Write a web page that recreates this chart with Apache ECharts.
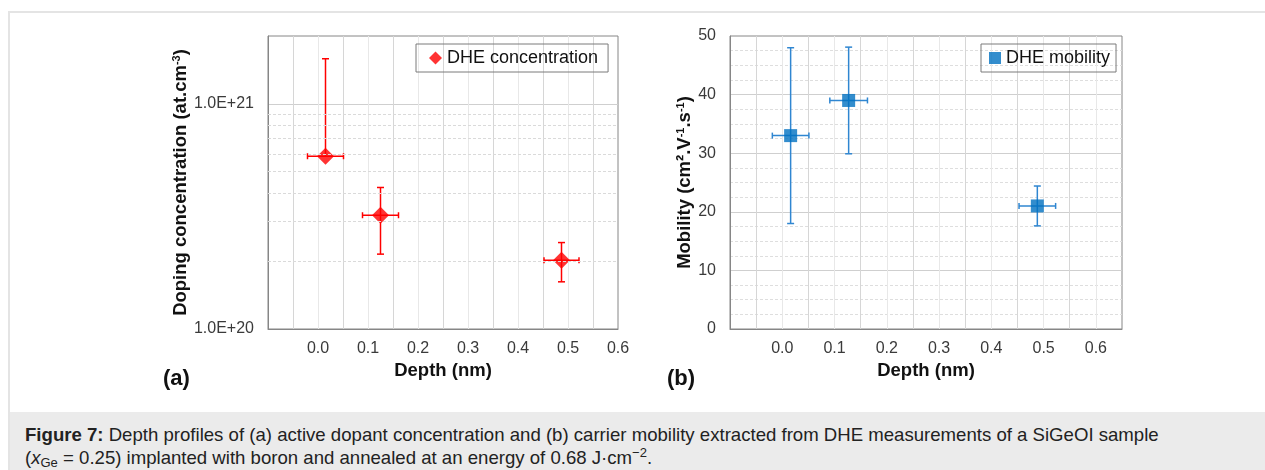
<!DOCTYPE html>
<html>
<head>
<meta charset="utf-8">
<script src="https://cdn.jsdelivr.net/npm/echarts@6/dist/echarts.min.js"></script>
<style>
  html, body { margin: 0; padding: 0; background: #fff; width: 1265px; height: 470px; overflow: hidden; }
  #frame { position: absolute; left: 8px; top: 11px; width: 1257px; height: 459px; border-top: 2px solid #e4e4e4; border-left: 2px solid #e4e4e4; box-sizing: border-box; }
  #chart { position: absolute; left: 0; top: 0; width: 1265px; height: 412px; }
  #cap { position: absolute; left: 10px; top: 412px; width: 1255px; height: 58px; background: #ebebeb;
         font-family: 'Liberation Sans', Arial, sans-serif; font-size: 18.6px; line-height: 23px; color: #222;
         padding: 11px 0 0 15px; box-sizing: border-box; white-space: nowrap; }
  #cap sub { font-size: 13px; vertical-align: -3px; line-height: 0; }
  #cap sup { font-size: 13px; vertical-align: 7px; line-height: 0; }
</style>
</head>
<body>
<div id="frame"></div>
<div id="chart"></div>
<div id="cap"><b>Figure 7:</b> Depth profiles of (a) active dopant concentration and (b) carrier mobility extracted from DHE measurements of a SiGeOI sample<br>(<i>x</i><sub>Ge</sub> = 0.25) implanted with boron and annealed at an energy of 0.68 J·cm<sup>−2</sup>.</div>
<script>
// ---- data ----
const concDepth    = [0.015, 0.125, 0.487];
const concDepthErr = [0.036, 0.036, 0.035];
const concValues   = [5.85e20, 3.2e20, 2.02e20];
const concErr      = [1.0e21, 1.05e20, 0.40e20];

const mobDepth    = [0.016, 0.127, 0.488];
const mobDepthErr = [0.035, 0.036, 0.035];
const mobValues   = [33, 39, 21];
const mobErr      = [15, 9.1, 3.4];

const concMinorLines = [2e20, 3e20, 4e20, 5e20, 6e20, 7e20, 8e20, 9e20];
const concSeriesName = 'DHE concentration';
const mobSeriesName  = 'DHE mobility';
const xAxisTitle = 'Depth (nm)';

// ---- build ----
const FONT = "'Liberation Sans', Arial, sans-serif";
const rows = (xs, ys, xe, ye) => xs.map((x, i) => [x, ys[i], xe[i], ye[i]]);

function errorBarRender(color, logY) {
  return function (params, api) {
    const x = api.value(0), y = api.value(1), xe = api.value(2), ye = api.value(3);
    const c = api.coord([x, y]);
    const hi = api.coord([x, y + ye]);
    const lo = (logY && y - ye <= 0) ? null : api.coord([x, y - ye]);
    const l = api.coord([x - xe, y]);
    const r = api.coord([x + xe, y]);
    const style = { stroke: color, lineWidth: 1.5, fill: null };
    const capV = 3.5, capH = 3;
    const ch = [];
    const line = (x1, y1, x2, y2) => ch.push({ type: 'line', shape: { x1, y1, x2, y2 }, style });
    line(c[0], hi[1], c[0], c[1]);
    line(c[0] - capV, hi[1], c[0] + capV, hi[1]);
    if (lo) {
      line(c[0], c[1], c[0], lo[1]);
      line(c[0] - capV, lo[1], c[0] + capV, lo[1]);
    }
    line(l[0], c[1], r[0], c[1]);
    line(l[0], c[1] - capH, l[0], c[1] + capH);
    line(r[0], c[1] - capH, r[0], c[1] + capH);
    return { type: 'group', children: ch };
  };
}

function xAxisDef(gridIndex, max) {
  return {
    type: 'value', gridIndex, min: -0.1, max, interval: 0.05,
    name: xAxisTitle, nameLocation: 'middle', nameGap: 29,
    nameTextStyle: { fontFamily: FONT, fontSize: 18.5, fontWeight: 'bold', color: '#111' },
    axisLine: { show: true, onZero: false, lineStyle: { color: '#868686', width: 1 } },
    axisTick: { show: false },
    axisLabel: {
      fontFamily: FONT, fontSize: 16, color: '#3a3a3a', margin: 12,
      formatter: v => {
        const k = Math.round(v * 100);
        if (k < 0 || k % 10 !== 0 || v > 0.6 + 1e-9) return '';
        return v.toFixed(1);
      }
    },
    splitLine: { show: true, showMinLine: false, showMaxLine: false,
      lineStyle: { color: ['#d6d6d6', '#e8e8e8'], width: 1 } }
  };
}

const option = {
  animation: false,
  textStyle: { fontFamily: FONT },
  grid: [
    { left: 268, top: 36, width: 350, height: 293, show: true, borderColor: '#868686', borderWidth: 1, backgroundColor: 'transparent' },
    { left: 730, top: 36, width: 392, height: 293, show: true, borderColor: '#868686', borderWidth: 1, backgroundColor: 'transparent' }
  ],
  legend: [
    { data: [concSeriesName], left: 416, top: 44, orient: 'horizontal',
      borderColor: '#7a7a7a', borderWidth: 1, padding: [5, 10, 5, 13],
      itemWidth: 13, itemHeight: 13, textStyle: { fontFamily: FONT, fontSize: 18, color: '#111' } },
    { data: [mobSeriesName], left: 981, top: 44, orient: 'horizontal',
      borderColor: '#7a7a7a', borderWidth: 1, padding: [5, 6, 5, 8],
      itemWidth: 12, itemHeight: 12, textStyle: { fontFamily: FONT, fontSize: 18, color: '#111' } }
  ],
  xAxis: [ xAxisDef(0, 0.6), xAxisDef(1, 0.65) ],
  yAxis: [
    {
      type: 'log', gridIndex: 0, logBase: 10, min: 1e20, max: 2e21,
      name: '{t|Doping concentration (at.cm}{s|-3}{t|)}', nameLocation: 'middle', nameGap: 77, nameRotate: 90,
      nameTextStyle: { rich: {
        t: { fontFamily: FONT, fontSize: 18.5, fontWeight: 'bold', color: '#111' },
        s: { fontFamily: FONT, fontSize: 11, fontWeight: 'bold', color: '#111', verticalAlign: 'top' } } },
      axisLine: { show: true, onZero: false, lineStyle: { color: '#868686' } },
      axisTick: { show: false },
      axisLabel: { fontFamily: FONT, fontSize: 16, color: '#3a3a3a', margin: 14,
        formatter: v => {
          const e = Math.log10(v);
          if (Math.abs(e - Math.round(e)) > 1e-6) return '';
          return '1.0E+' + Math.round(e);
        } },
      splitLine: { show: true, showMinLine: false, showMaxLine: false, lineStyle: { color: '#cfcfcf', width: 1 } }
    },
    {
      type: 'value', gridIndex: 1, min: 0, max: 50, interval: 10,
      name: '{t|Mobility (cm².V}{s|-1}{t|.s}{s|-1}{t|)}', nameLocation: 'middle', nameGap: 36, nameRotate: 90,
      nameTextStyle: { rich: {
        t: { fontFamily: FONT, fontSize: 18.5, fontWeight: 'bold', color: '#111' },
        s: { fontFamily: FONT, fontSize: 11, fontWeight: 'bold', color: '#111', verticalAlign: 'top' } } },
      axisLine: { show: true, onZero: false, lineStyle: { color: '#868686' } },
      axisTick: { show: false },
      axisLabel: { fontFamily: FONT, fontSize: 16, color: '#3a3a3a', margin: 14 },
      splitLine: { show: true, showMinLine: false, showMaxLine: false, lineStyle: { color: '#cfcfcf', width: 1 } },
      minorTick: { show: false, splitNumber: 4 },
      minorSplitLine: { show: true, lineStyle: { color: '#dedede', type: [3, 2], width: 1 } }
    }
  ],
  graphic: [
    { type: 'text', left: 163, top: 368, style: { text: '(a)', font: "bold 22px 'Liberation Sans', Arial, sans-serif", fill: '#111' } },
    { type: 'text', left: 667, top: 368, style: { text: '(b)', font: "bold 22px 'Liberation Sans', Arial, sans-serif", fill: '#111' } }
  ],
  series: [
    {
      name: 'concErr', type: 'custom', xAxisIndex: 0, yAxisIndex: 0,
      data: rows(concDepth, concValues, concDepthErr, concErr),
      encode: { x: 0, y: 1 },
      renderItem: errorBarRender('#ff0000', true),
      silent: true,
      markLine: {
        silent: true, symbol: 'none', label: { show: false },
        lineStyle: { color: '#dadada', type: [3, 2], width: 1 },
        data: concMinorLines.map(v => ({ yAxis: v }))
      },
      z: 3
    },
    {
      name: concSeriesName, type: 'scatter', xAxisIndex: 0, yAxisIndex: 0,
      symbol: 'diamond', symbolSize: 17,
      itemStyle: { color: '#ff0000' },
      data: concDepth.map((x, i) => [x, concValues[i]]),
      z: 4
    },
    {
      name: 'mobErr', type: 'custom', xAxisIndex: 1, yAxisIndex: 1,
      data: rows(mobDepth, mobValues, mobDepthErr, mobErr),
      encode: { x: 0, y: 1 },
      renderItem: errorBarRender('#2f86d1', false),
      silent: true, z: 3
    },
    {
      name: mobSeriesName, type: 'scatter', xAxisIndex: 1, yAxisIndex: 1,
      symbol: 'rect', symbolSize: 13,
      itemStyle: { color: '#0070c0' },
      data: mobDepth.map((x, i) => [x, mobValues[i]]),
      z: 4
    }
  ]
};

const chart = echarts.init(document.getElementById('chart'), null, { renderer: 'canvas' });
chart.setOption(option);
</script>
</body>
</html>
